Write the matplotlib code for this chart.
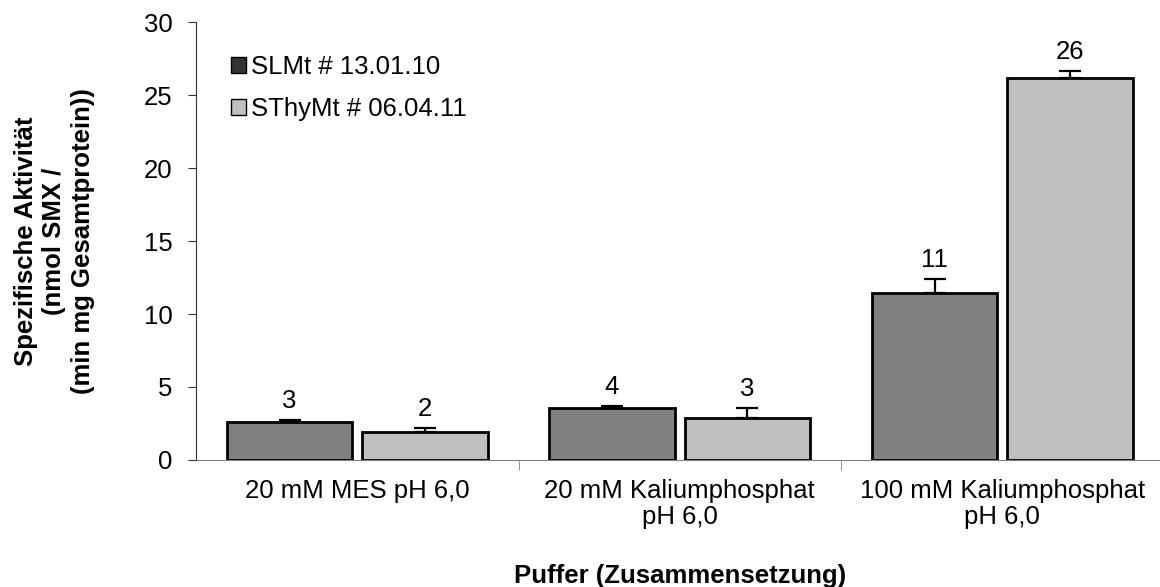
import numpy as np
import matplotlib.pyplot as plt
from matplotlib.patches import Patch

plt.rcParams['font.family'] = ['Liberation Sans', 'DejaVu Sans']

# Data
categories = ['20 mM MES pH 6,0', '20 mM Kaliumphosphat\npH 6,0', '100 mM Kaliumphosphat\npH 6,0']
series_names = ['SLMt # 13.01.10', 'SThyMt # 06.04.11']
slmt = [2.6, 3.55, 11.45]
slmt_err = [0.15, 0.15, 0.95]
sthymt = [1.92, 2.88, 26.2]
sthymt_err = [0.25, 0.65, 0.45]
labels_slmt = ['3', '4', '11']
labels_sthymt = ['2', '3', '26']

fs = 18.5

fig = plt.figure(figsize=(11.6, 5.87), dpi=100)
ax = fig.add_axes([0.169, 0.2164, 0.834, 0.746])

x = np.arange(len(categories))
w = 0.388
off = 0.21

ax.bar(x - off, slmt, w, color='#808080', edgecolor='black', linewidth=2, zorder=3)
ax.bar(x + off, sthymt, w, color='#c0c0c0', edgecolor='black', linewidth=2, zorder=3)
ax.errorbar(x - off, slmt, yerr=[np.zeros(3), slmt_err], fmt='none', ecolor='black',
            elinewidth=1.6, capsize=8, capthick=1.6, zorder=4)
ax.errorbar(x + off, sthymt, yerr=[np.zeros(3), sthymt_err], fmt='none', ecolor='black',
            elinewidth=1.6, capsize=8, capthick=1.6, zorder=4)

for xi, v, e, t in zip(x - off, slmt, slmt_err, labels_slmt):
    ax.text(xi, v + e + 0.5, t, ha='center', va='bottom', fontsize=fs)
for xi, v, e, t in zip(x + off, sthymt, sthymt_err, labels_sthymt):
    ax.text(xi, v + e + 0.5, t, ha='center', va='bottom', fontsize=fs)

ax.set_xlim(-0.5, 2.5)
ax.set_ylim(0, 30)
ax.set_yticks(range(0, 31, 5))
ax.set_xticks(x)
ax.set_xticklabels(categories, fontsize=fs, linespacing=1.1)
ax.set_xticks([0.5, 1.5, 2.5], minor=True)
ax.tick_params(axis='x', which='major', length=0, pad=14)
ax.tick_params(axis='x', which='minor', length=7, color='#808080')
ax.tick_params(axis='y', labelsize=fs, length=6, pad=11, color='#333333')

for s in ['top', 'right']:
    ax.spines[s].set_visible(False)
ax.spines['bottom'].set_color('#808080')
ax.spines['left'].set_color('#333333')

ax.set_ylabel('Spezifische Aktivität\n(nmol SMX /\n(min mg Gesamtprotein))',
              fontsize=fs, fontweight='bold', labelpad=35, linespacing=1.25)
ax.set_xlabel('Puffer (Zusammensetzung)', fontsize=fs, fontweight='bold', labelpad=25)

handles = [Patch(facecolor='#333333', edgecolor='black', label=series_names[0]),
           Patch(facecolor='#c0c0c0', edgecolor='black', label=series_names[1])]
ax.legend(handles=handles, loc='upper left', bbox_to_anchor=(0.036, 0.925), frameon=False,
          fontsize=fs, handlelength=0.6, handleheight=0.6, handletextpad=0.2,
          labelspacing=0.7, borderpad=0, borderaxespad=0)

fig.savefig('out.png', dpi=100)
